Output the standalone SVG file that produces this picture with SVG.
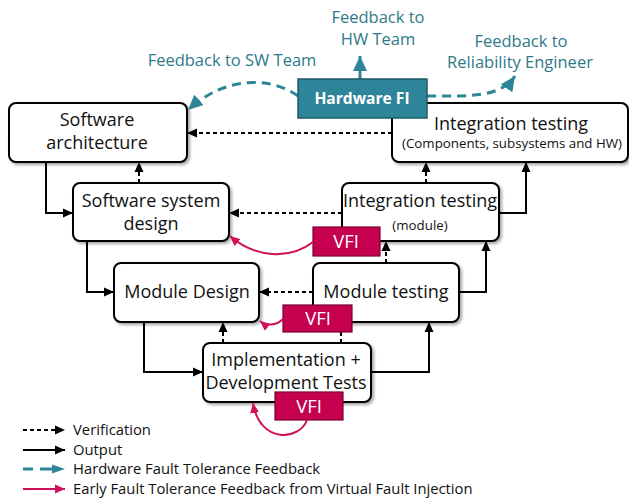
<svg xmlns="http://www.w3.org/2000/svg" width="629" height="500" viewBox="0 0 629 500">
<defs>
<style>
.box{fill:#fff;stroke:#000;stroke-width:2;filter:url(#sh)}
.t{font-family:"Open Sans","Noto Sans","DejaVu Sans",sans-serif;font-size:18px;fill:#111;text-anchor:middle}
.s{font-size:13.3px}
.teal{font-family:"Open Sans","Noto Sans","DejaVu Sans",sans-serif;font-size:16.5px;fill:#2E7A8A;text-anchor:middle}
.leg{font-family:"Open Sans","Noto Sans","DejaVu Sans",sans-serif;font-size:14.8px;fill:#111}
.vfi{fill:#C4004F;stroke:#7A0030;stroke-width:1.2}
.vt{font-family:"Open Sans","Noto Sans","DejaVu Sans",sans-serif;font-size:18.5px;fill:#fff;text-anchor:middle}
.dash{fill:none;stroke:#000;stroke-width:2;stroke-dasharray:4 3;marker-end:url(#ab)}
.sol{fill:none;stroke:#000;stroke-width:2;marker-end:url(#ab)}
.tdash{fill:none;stroke:#2E8599;stroke-width:3;stroke-dasharray:9 6;marker-end:url(#at)}
.red{fill:none;stroke:#D0105A;stroke-width:2;marker-end:url(#ar)}
</style>
<filter id="sh" x="-10%" y="-10%" width="130%" height="130%">
<feDropShadow dx="2" dy="2" stdDeviation="1.5" flood-color="#000" flood-opacity="0.35"/>
</filter>
<marker id="ab" markerUnits="userSpaceOnUse" markerWidth="11" markerHeight="10" refX="10" refY="5" orient="auto"><path d="M0,0.5 L10,5 L0,9.5 Z" fill="#000"/></marker>
<marker id="at" markerUnits="userSpaceOnUse" markerWidth="16" markerHeight="14" refX="15" refY="7" orient="auto"><path d="M0,0 L15,7 L0,14 Z" fill="#2E8599"/></marker>
<marker id="ar" markerUnits="userSpaceOnUse" markerWidth="11" markerHeight="10" refX="10" refY="5" orient="auto"><path d="M0,0.5 L10,5 L0,9.5 Z" fill="#D0105A"/></marker>
</defs>
<rect width="629" height="500" fill="#fff"/>

<g id="sw-arch"><rect class="box" x="9" y="103" width="178" height="59" rx="7"/>
<text class="t" x="97" y="126">Software</text><text class="t" x="97" y="149">architecture</text></g>
<g id="int-test-top"><rect class="box" x="392" y="103" width="236" height="59" rx="7"/>
<text class="t" x="511" y="130">Integration testing</text><text class="t s" x="512" y="148">(Components, subsystems and HW)</text></g>
<g id="sw-sys-design"><rect class="box" x="73" y="183" width="156" height="58" rx="7"/>
<text class="t" x="151" y="207">Software system</text><text class="t" x="151" y="230">design</text></g>
<g id="int-test-module"><rect class="box" x="342" y="183" width="157" height="58" rx="7"/>
<text class="t" x="420" y="207">Integration testing</text><text class="t s" x="420" y="230">(module)</text></g>
<g id="module-design"><rect class="box" x="114" y="263" width="145" height="59" rx="7"/>
<text class="t" x="187" y="298">Module Design</text></g>
<g id="module-testing"><rect class="box" x="313" y="263" width="146" height="59" rx="7"/>
<text class="t" x="386" y="298">Module testing</text></g>
<g id="impl"><rect class="box" x="203" y="343" width="168" height="59" rx="7"/>
<text class="t" x="286" y="366">Implementation +</text><text class="t" x="286" y="389">Development Tests</text></g>

<g id="connectors">
<path class="dash" d="M392,133 H187"/>
<path class="dash" d="M342,213 H229"/>
<path class="dash" d="M313,292 H259"/>
<path class="dash" d="M139,183 V162"/>
<path class="dash" d="M426,183 V162"/>
<path class="dash" d="M223,343 V322"/>
<path class="dash" d="M386,263 V241"/>
<path class="dash" d="M341,343 V322"/>
<path class="sol" d="M46,162 V213 H73"/>
<path class="sol" d="M87,241 V292 H114"/>
<path class="sol" d="M144,322 V372 H203"/>
<path class="sol" d="M371,372 H429 V322"/>
<path class="sol" d="M459,292 H486 V241"/>
<path class="sol" d="M499,213 H526 V162"/>
<path class="tdash" d="M298,96 C270,76 225,76 188,110"/>
<path d="M360,79 V56" fill="none" stroke="#2E8599" stroke-width="3" marker-end="url(#at)"/>
<path class="tdash" d="M427,96 C470,96 500,98 515,76"/>
</g>

<g id="hw-fi"><rect x="298" y="79" width="129" height="39" fill="#2E8599" stroke="#1C5A68" stroke-width="1.5"/>
<text class="vt" x="362" y="104" style="font-weight:bold;font-size:15.6px">Hardware FI</text></g>
<g id="feedback-labels">
<text class="teal" x="232" y="66">Feedback to SW Team</text>
<text class="teal" x="378" y="23">Feedback to</text><text class="teal" x="378" y="45">HW Team</text>
<text class="teal" x="521" y="47">Feedback to</text><text class="teal" x="520" y="68">Reliability Engineer</text>
</g>

<g id="vfi1"><rect class="vfi" x="313" y="227" width="67" height="29"/><text class="vt" x="346" y="248">VFI</text></g>
<g id="vfi2"><rect class="vfi" x="283" y="305" width="69" height="27"/><text class="vt" x="318" y="325">VFI</text></g>
<g id="vfi3"><rect class="vfi" x="275" y="392" width="68" height="28"/><text class="vt" x="309" y="413">VFI</text></g>
<g id="vfi-feedback">
<path class="red" d="M313,242 C290,260 255,258 230,236"/>
<path class="red" d="M283,319 C276,326 266,326 260,321"/>
<path class="red" d="M307,420 C300,440 260,445 253,403"/>
</g>

<g id="legend">
<path class="dash" d="M23,430 H65"/><text class="leg" x="73" y="435">Verification</text>
<path class="sol" d="M23,450 H65"/><text class="leg" x="73" y="455">Output</text>
<path d="M23,469 H33 M40,469 H52" fill="none" stroke="#2E8599" stroke-width="3"/>
<path d="M52,464.5 L65,469 L52,473.5 Z" fill="#2E8599"/>
<text class="leg" x="73" y="474">Hardware Fault Tolerance Feedback</text>
<path class="red" d="M23,489 H65"/><text class="leg" x="73" y="494">Early Fault Tolerance Feedback from Virtual Fault Injection</text>
</g>
</svg>
